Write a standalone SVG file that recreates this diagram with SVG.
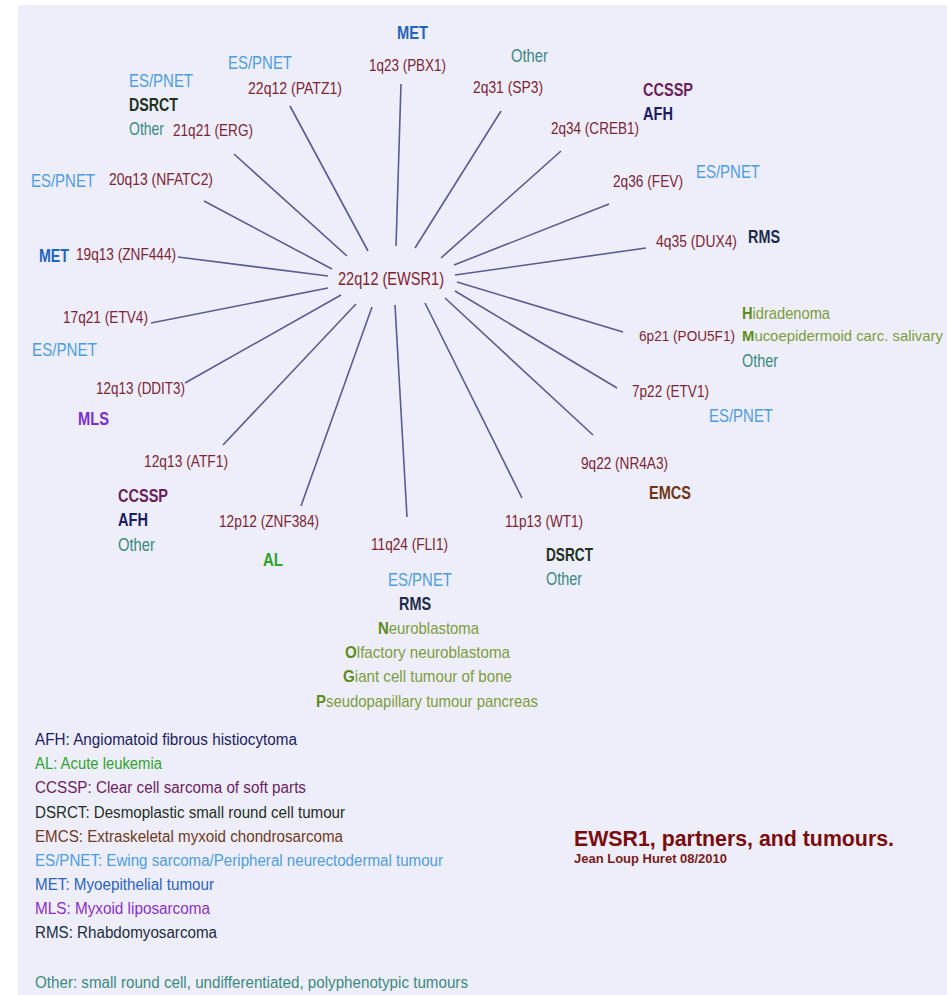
<svg xmlns="http://www.w3.org/2000/svg" width="947" height="995" viewBox="0 0 947 995">
<style>
text{font-family:"Liberation Sans",Arial,sans-serif}
.p{font-size:16.5px;fill:#7d2535}
.c{font-size:18px;fill:#80232f}
.d{font-size:19px}
.b{font-weight:bold}
.es{fill:#4d9de0}
.met{fill:#2264c0;font-weight:bold}
.oth{fill:#3a8a7e}
.dsr{fill:#1e321e;font-weight:bold}
.ccs{fill:#6b1e5e;font-weight:bold}
.afh{fill:#1c1c64;font-weight:bold}
.rms{fill:#1c2c4c;font-weight:bold}
.mls{fill:#7a30c8;font-weight:bold}
.al{fill:#2ea32e;font-weight:bold}
.emc{fill:#6e3616;font-weight:bold}
.grn{font-size:17px;fill:#7c9c3c}
.gi{fill:#5c8c1c;font-weight:bold}
.lg{font-size:16px}
#connectors line{stroke:#5a5a94;stroke-width:1.6;fill:none}
</style>
<rect x="18" y="5" width="929" height="990" fill="#eeeefb"/>
<g id="connectors">
<line x1="396" y1="246" x2="401" y2="84"/>
<line x1="415" y1="248" x2="501" y2="111"/>
<line x1="441" y1="258" x2="561" y2="151"/>
<line x1="454" y1="265" x2="609" y2="204"/>
<line x1="455" y1="275" x2="646" y2="248"/>
<line x1="457" y1="282" x2="623" y2="332"/>
<line x1="455" y1="291" x2="617" y2="388"/>
<line x1="445" y1="298" x2="593" y2="435"/>
<line x1="425" y1="303" x2="522" y2="498"/>
<line x1="395" y1="305" x2="407" y2="517"/>
<line x1="372" y1="307" x2="301" y2="506"/>
<line x1="356" y1="304" x2="223" y2="445"/>
<line x1="341" y1="295" x2="185" y2="383"/>
<line x1="328" y1="288" x2="151" y2="323"/>
<line x1="328" y1="276" x2="178" y2="257"/>
<line x1="332" y1="269" x2="204" y2="201"/>
<line x1="347" y1="256" x2="234" y2="154"/>
<line x1="368" y1="251" x2="290" y2="106"/>
</g>
<g id="EWSR1"><text class="c" x="338" y="285" textLength="106" lengthAdjust="spacingAndGlyphs">22q12 (EWSR1)</text></g>
<g id="PBX1">
<text class="p" x="369" y="71" textLength="77" lengthAdjust="spacingAndGlyphs">1q23 (PBX1)</text>
<text class="d met" x="397" y="39" textLength="31" lengthAdjust="spacingAndGlyphs">MET</text>
</g>
<g id="SP3">
<text class="p" x="473" y="93" textLength="70" lengthAdjust="spacingAndGlyphs">2q31 (SP3)</text>
<text class="d oth" x="511" y="62" textLength="37" lengthAdjust="spacingAndGlyphs">Other</text>
</g>
<g id="CREB1">
<text class="p" x="551" y="134" textLength="88" lengthAdjust="spacingAndGlyphs">2q34 (CREB1)</text>
<text class="d ccs" x="643" y="96" textLength="50" lengthAdjust="spacingAndGlyphs">CCSSP</text>
<text class="d afh" x="643" y="120" textLength="30" lengthAdjust="spacingAndGlyphs">AFH</text>
</g>
<g id="FEV">
<text class="p" x="613" y="187" textLength="70" lengthAdjust="spacingAndGlyphs">2q36 (FEV)</text>
<text class="d es" x="696" y="178" textLength="64" lengthAdjust="spacingAndGlyphs">ES/PNET</text>
</g>
<g id="DUX4">
<text class="p" x="656" y="247" textLength="81" lengthAdjust="spacingAndGlyphs">4q35 (DUX4)</text>
<text class="d rms" x="748" y="243" textLength="32" lengthAdjust="spacingAndGlyphs">RMS</text>
</g>
<g id="POU5F1">
<text x="639" y="341" font-size="14.5" fill="#7d2535" textLength="96" lengthAdjust="spacingAndGlyphs">6p21 (POU5F1)</text>
<text class="grn" x="742" y="319" textLength="88" lengthAdjust="spacingAndGlyphs"><tspan class="gi">H</tspan>idradenoma</text>
<text x="742" y="341" font-size="15" fill="#7c9c3c" textLength="201" lengthAdjust="spacingAndGlyphs"><tspan class="gi">M</tspan>ucoepidermoid carc. salivary</text>
<text class="d oth" x="742" y="367" textLength="36" lengthAdjust="spacingAndGlyphs">Other</text>
</g>
<g id="ETV1">
<text class="p" x="632" y="397" textLength="77" lengthAdjust="spacingAndGlyphs">7p22 (ETV1)</text>
<text class="d es" x="709" y="422" textLength="64" lengthAdjust="spacingAndGlyphs">ES/PNET</text>
</g>
<g id="NR4A3">
<text class="p" x="581" y="469" textLength="87" lengthAdjust="spacingAndGlyphs">9q22 (NR4A3)</text>
<text class="d emc" x="649" y="499" textLength="42" lengthAdjust="spacingAndGlyphs">EMCS</text>
</g>
<g id="WT1">
<text class="p" x="505" y="527" textLength="78" lengthAdjust="spacingAndGlyphs">11p13 (WT1)</text>
<text class="d dsr" x="546" y="561" textLength="47" lengthAdjust="spacingAndGlyphs">DSRCT</text>
<text class="d oth" x="546" y="585" textLength="36" lengthAdjust="spacingAndGlyphs">Other</text>
</g>
<g id="FLI1">
<text class="p" x="371" y="550" textLength="77" lengthAdjust="spacingAndGlyphs">11q24 (FLI1)</text>
<text class="d es" x="388" y="586" textLength="64" lengthAdjust="spacingAndGlyphs">ES/PNET</text>
<text class="d rms" x="399" y="610" textLength="32" lengthAdjust="spacingAndGlyphs">RMS</text>
<text class="grn" x="378" y="634" textLength="101" lengthAdjust="spacingAndGlyphs"><tspan class="gi">N</tspan>euroblastoma</text>
<text class="grn" x="345" y="658" textLength="165" lengthAdjust="spacingAndGlyphs"><tspan class="gi">O</tspan>lfactory neuroblastoma</text>
<text class="grn" x="343" y="682" textLength="169" lengthAdjust="spacingAndGlyphs"><tspan class="gi">G</tspan>iant cell tumour of bone</text>
<text class="grn" x="316" y="707" textLength="222" lengthAdjust="spacingAndGlyphs"><tspan class="gi">P</tspan>seudopapillary tumour pancreas</text>
</g>
<g id="ZNF384">
<text class="p" x="219" y="527" textLength="100" lengthAdjust="spacingAndGlyphs">12p12 (ZNF384)</text>
<text class="d al" x="263" y="566" textLength="20" lengthAdjust="spacingAndGlyphs">AL</text>
</g>
<g id="ATF1">
<text class="p" x="144" y="467" textLength="84" lengthAdjust="spacingAndGlyphs">12q13 (ATF1)</text>
<text class="d ccs" x="118" y="502" textLength="50" lengthAdjust="spacingAndGlyphs">CCSSP</text>
<text class="d afh" x="118" y="526" textLength="30" lengthAdjust="spacingAndGlyphs">AFH</text>
<text class="d oth" x="118" y="551" textLength="37" lengthAdjust="spacingAndGlyphs">Other</text>
</g>
<g id="DDIT3">
<text class="p" x="96" y="394" textLength="89" lengthAdjust="spacingAndGlyphs">12q13 (DDIT3)</text>
<text class="d mls" x="78" y="425" textLength="31" lengthAdjust="spacingAndGlyphs">MLS</text>
</g>
<g id="ETV4">
<text class="p" x="63" y="323" textLength="85" lengthAdjust="spacingAndGlyphs">17q21 (ETV4)</text>
<text class="d es" x="32" y="356" textLength="65" lengthAdjust="spacingAndGlyphs">ES/PNET</text>
</g>
<g id="ZNF444">
<text class="p" x="76" y="260" textLength="100" lengthAdjust="spacingAndGlyphs">19q13 (ZNF444)</text>
<text class="d met" x="39" y="262" textLength="30" lengthAdjust="spacingAndGlyphs">MET</text>
</g>
<g id="NFATC2">
<text class="p" x="109" y="185" textLength="104" lengthAdjust="spacingAndGlyphs">20q13 (NFATC2)</text>
<text class="d es" x="31" y="187" textLength="64" lengthAdjust="spacingAndGlyphs">ES/PNET</text>
</g>
<g id="ERG">
<text class="p" x="173" y="136" textLength="80" lengthAdjust="spacingAndGlyphs">21q21 (ERG)</text>
<text class="d es" x="129" y="87" textLength="64" lengthAdjust="spacingAndGlyphs">ES/PNET</text>
<text class="d dsr" x="129" y="111" textLength="49" lengthAdjust="spacingAndGlyphs">DSRCT</text>
<text class="d oth" x="129" y="135" textLength="35" lengthAdjust="spacingAndGlyphs">Other</text>
</g>
<g id="PATZ1">
<text class="p" x="248" y="94" textLength="94" lengthAdjust="spacingAndGlyphs">22q12 (PATZ1)</text>
<text class="d es" x="228" y="69" textLength="64" lengthAdjust="spacingAndGlyphs">ES/PNET</text>
</g>
<g id="legend">
<text class="lg" x="35" y="745" fill="#1c1c60" textLength="262" lengthAdjust="spacingAndGlyphs">AFH: Angiomatoid fibrous histiocytoma</text>
<text class="lg" x="35" y="769" fill="#2ea32e" textLength="127" lengthAdjust="spacingAndGlyphs">AL: Acute leukemia</text>
<text class="lg" x="35" y="793" fill="#6b1e5e" textLength="271" lengthAdjust="spacingAndGlyphs">CCSSP: Clear  cell sarcoma of soft parts</text>
<text class="lg" x="35" y="818" fill="#1e2e1e" textLength="310" lengthAdjust="spacingAndGlyphs">DSRCT: Desmoplastic small round cell tumour</text>
<text class="lg" x="35" y="842" fill="#6e3a22" textLength="308" lengthAdjust="spacingAndGlyphs">EMCS: Extraskeletal myxoid chondrosarcoma</text>
<text class="lg" x="35" y="866" fill="#4d9de0" textLength="408" lengthAdjust="spacingAndGlyphs">ES/PNET: Ewing sarcoma/Peripheral  neurectodermal tumour</text>
<text class="lg" x="35" y="890" fill="#2a64c0" textLength="179" lengthAdjust="spacingAndGlyphs">MET: Myoepithelial tumour</text>
<text class="lg" x="35" y="914" fill="#8a30c8" textLength="175" lengthAdjust="spacingAndGlyphs">MLS: Myxoid liposarcoma</text>
<text class="lg" x="35" y="938" fill="#1c2c3c" textLength="182" lengthAdjust="spacingAndGlyphs">RMS: Rhabdomyosarcoma</text>
<text class="lg" x="35" y="988" fill="#3a8a7e" textLength="433" lengthAdjust="spacingAndGlyphs">Other: small round cell, undifferentiated, polyphenotypic tumours</text>
</g>
<g id="title">
<text x="574" y="846" font-size="22" font-weight="bold" fill="#7a0c0c" textLength="320" lengthAdjust="spacingAndGlyphs">EWSR1, partners, and tumours.</text>
<text x="574" y="863" font-size="13" font-weight="bold" fill="#7a1a1a" textLength="153" lengthAdjust="spacingAndGlyphs">Jean Loup Huret 08/2010</text>
</g>
</svg>
